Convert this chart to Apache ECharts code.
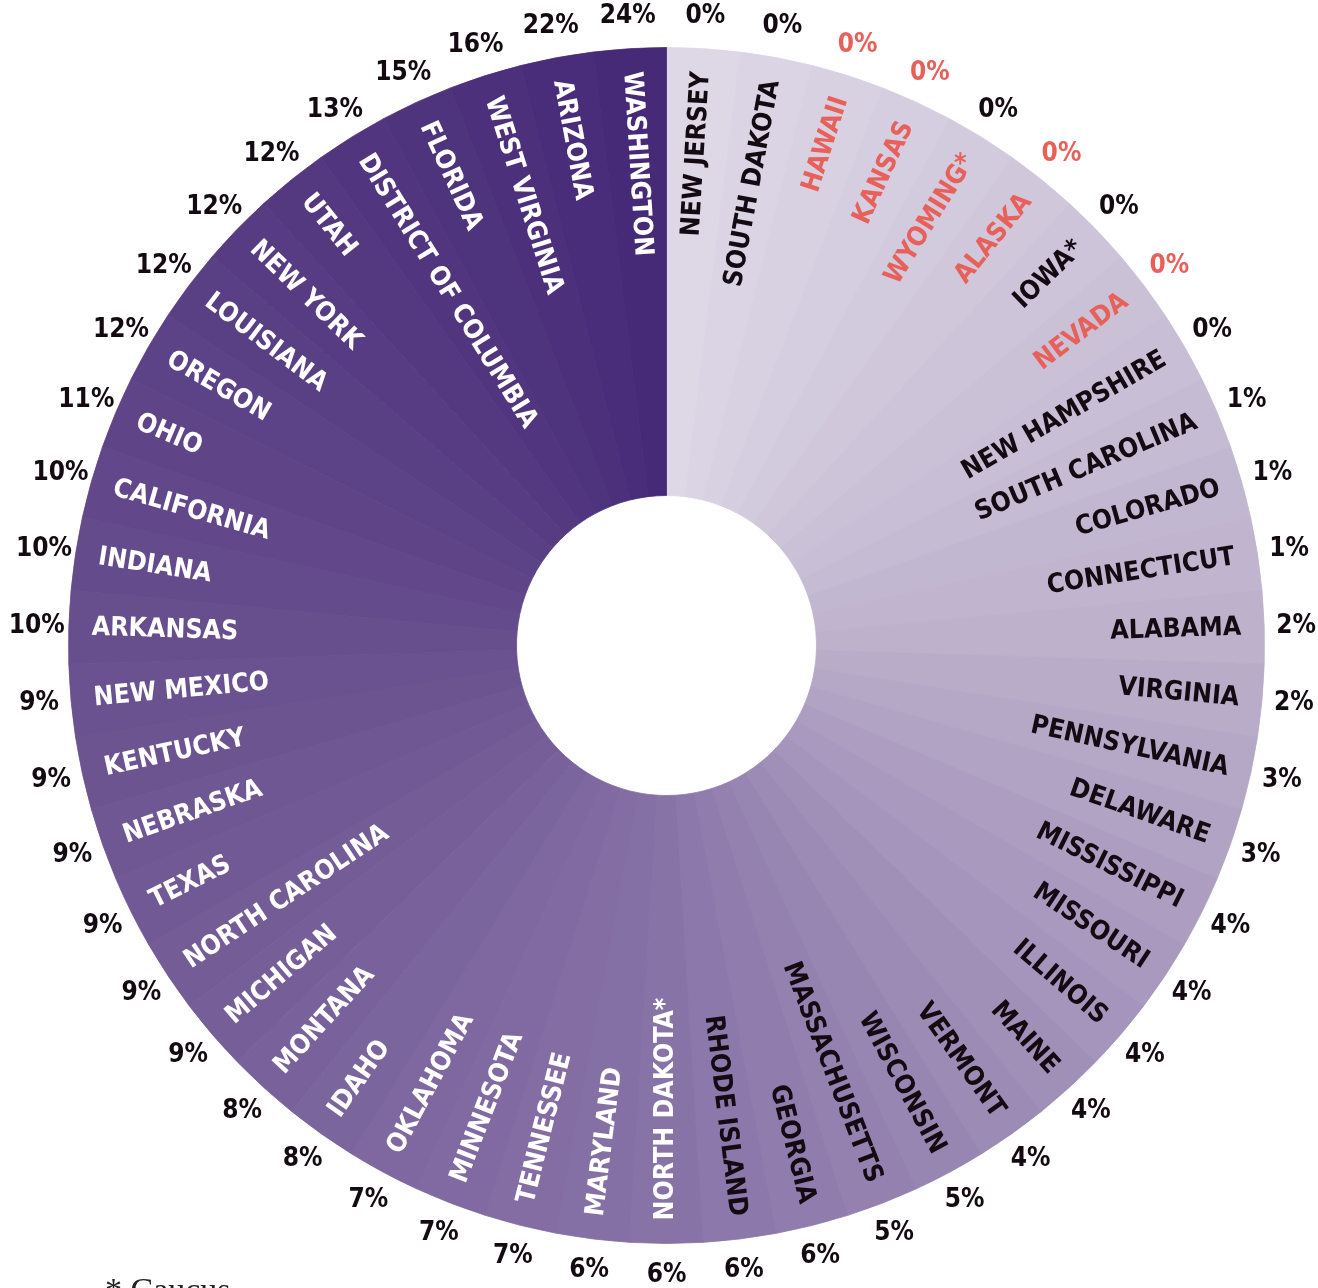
<!DOCTYPE html>
<html>
<head>
<meta charset="utf-8">
<script src="https://cdn.jsdelivr.net/npm/echarts@6/dist/echarts.min.js"></script>
<style>
html,body{margin:0;padding:0;background:#fff;}
#chart{width:1318px;height:1288px;}
</style>
</head>
<body>
<div id="chart"></div>
<script>
// ---- data ----
const states = ['NEW JERSEY','SOUTH DAKOTA','HAWAII','KANSAS','WYOMING*','ALASKA','IOWA*','NEVADA','NEW HAMPSHIRE',
  'SOUTH CAROLINA','COLORADO','CONNECTICUT','ALABAMA','VIRGINIA','PENNSYLVANIA','DELAWARE','MISSISSIPPI','MISSOURI',
  'ILLINOIS','MAINE','VERMONT','WISCONSIN','MASSACHUSETTS','GEORGIA','RHODE ISLAND','NORTH DAKOTA*','MARYLAND',
  'TENNESSEE','MINNESOTA','OKLAHOMA','IDAHO','MONTANA','MICHIGAN','NORTH CAROLINA','TEXAS','NEBRASKA','KENTUCKY',
  'NEW MEXICO','ARKANSAS','INDIANA','CALIFORNIA','OHIO','OREGON','LOUISIANA','NEW YORK','UTAH',
  'DISTRICT OF COLUMBIA','FLORIDA','WEST VIRGINIA','ARIZONA','WASHINGTON'];
const pctValues = [0,0,0,0,0,0,0,0,0,1,1,1,2,2,3,3,4,4,4,4,4,5,5,6,6,6,6,7,7,7,8,8,9,9,9,9,9,9,10,10,10,11,12,12,12,12,13,15,16,22,24];
const redNameStates = ['HAWAII','KANSAS','WYOMING*','ALASKA','NEVADA'];
const redPctStates = ['HAWAII','KANSAS','ALASKA','NEVADA'];

// ---- styles ----
const N = states.length;
const colorStops = [[0,[221,215,230]],[12,[189,177,204]],[25,[136,115,167]],[38,[103,78,141]],[50,[70,42,120]]];
function sliceColor(i){
  for (let k=0;k<colorStops.length-1;k++){
    const [a,ca]=colorStops[k],[b,cb]=colorStops[k+1];
    if (i>=a && i<=b){
      const t=(i-a)/(b-a);
      const c=ca.map((v,j)=>Math.round(v+(cb[j]-v)*t));
      return 'rgb('+c.join(',')+')';
    }
  }
  return 'rgb(70,42,120)';
}
const RED='#e8605a', DARK='#140a12';
const condensed = "'DejaVu Sans Condensed','Liberation Sans Narrow',sans-serif";
const center=[666.5,645.5];

const chart = echarts.init(document.getElementById('chart'), null, {renderer:'canvas'});
chart.setOption({
  animation:false,
  backgroundColor:'#fff',
  graphic:[{type:'text',left:105,top:1275,style:{text:'* Caucus',font:'34px "Liberation Serif", serif',fill:'#222'}}],
  series:[
    {
      type:'pie', center:center, radius:[150,598], startAngle:90, clockwise:true, silent:true,
      label:{show:false}, labelLine:{show:false}, emphasis:{disabled:true},
      data: states.map((s,i)=>({name:s,value:1,itemStyle:{color:sliceColor(i),borderColor:sliceColor(i),borderWidth:0.8}}))
    },
    {
      type:'pie', center:center, radius:[570,574], startAngle:90, clockwise:true, silent:true,
      itemStyle:{color:'rgba(0,0,0,0)'}, emphasis:{disabled:true}, labelLine:{show:false},
      label:{show:true, position:'inside', formatter:'{b}', fontFamily:condensed, fontWeight:'bold', fontSize:26.5},
      labelLayout:function(p){
        const theta=(p.dataIndex+0.5)*360/N;
        const right = theta < 179.999;
        return {rotate: right ? 90-theta : 270-theta, align: right ? 'right':'left', verticalAlign:'middle'};
      },
      data: states.map((s,i)=>({name:s,value:1,label:{color: redNameStates.includes(s)?RED:(i>=25?'#ffffff':DARK)}}))
    },
    {
      type:'pie', center:center, radius:[624,630], startAngle:90, clockwise:true, silent:true,
      itemStyle:{color:'rgba(0,0,0,0)'}, emphasis:{disabled:true}, labelLine:{show:false},
      label:{show:true, position:'inside', rotate:0, formatter:function(p){return pctValues[p.dataIndex]+'%';},
        fontFamily:condensed, fontWeight:'bold', fontSize:26},
      data: states.map((s,i)=>({name:s,value:1,label:{color: redPctStates.includes(s)?RED:DARK}}))
    }
  ]
});
</script>
</body>
</html>
